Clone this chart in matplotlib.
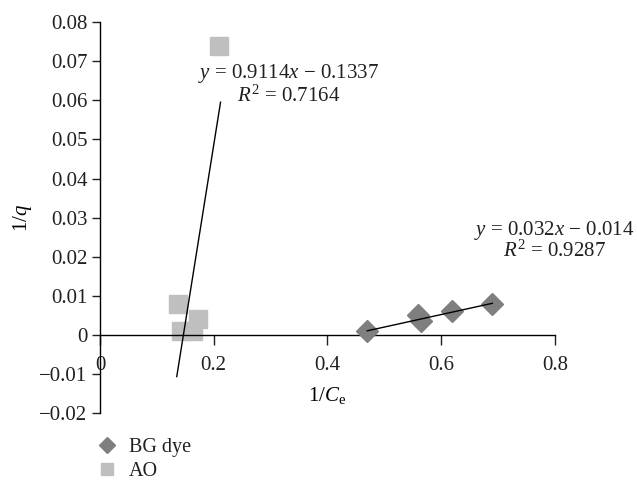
import matplotlib

matplotlib.use("Agg")
import matplotlib.pyplot as plt
import numpy as np

# data
bg_x = [0.47, 0.56, 0.565, 0.62, 0.69]
bg_y = [0.001, 0.005, 0.0035, 0.006, 0.008]
ao_x = [0.137, 0.142, 0.164, 0.173, 0.21]
ao_y = [0.008, 0.001, 0.001, 0.004, 0.074]

bg_fit = (0.032, -0.014)
ao_fit = (0.9114, -0.1337)
bg_fit_range = (0.47, 0.69)
ao_fit_range = (0.135, 0.212)

x_ticks = [0, 0.2, 0.4, 0.6, 0.8]
y_ticks = [-0.02, -0.01, 0, 0.01, 0.02, 0.03, 0.04, 0.05, 0.06, 0.07, 0.08]

TXT = "#231f20"
plt.rcParams["font.family"] = "Liberation Serif"
plt.rcParams["mathtext.fontset"] = "custom"
plt.rcParams["mathtext.rm"] = "Liberation Serif"
plt.rcParams["mathtext.it"] = "Liberation Serif:italic"
plt.rcParams["font.size"] = 15
plt.rcParams["text.color"] = TXT

fig = plt.figure(figsize=(6.37, 4.82), dpi=100)
ax = fig.add_axes([0.157, 0.143, 0.714, 0.811])

ax.plot(bg_x, bg_y, "D", color="#7f7f7f", markersize=11, linestyle="none",
        label="BG dye", zorder=3)
ax.plot(ao_x, ao_y, "s", color="#bfbfbf", markersize=12.5, linestyle="none",
        label="AO", zorder=2)

for (m, b), (x0, x1) in [(bg_fit, bg_fit_range), (ao_fit, ao_fit_range)]:
    xs = np.array([x0, x1])
    ax.plot(xs, m * xs + b, color="black", lw=1.0, zorder=4)

ax.set_xlim(0, 0.8)
ax.set_ylim(-0.02, 0.08)
ax.set_xticks(x_ticks)
ax.set_xticklabels(["0", "0.2", "0.4", "0.6", "0.8"])
ax.set_yticks(y_ticks)
ax.set_yticklabels(["\u22120.02", "\u22120.01", "0", "0.01", "0.02", "0.03",
                    "0.04", "0.05", "0.06", "0.07", "0.08"])

for s in ["top", "right"]:
    ax.spines[s].set_visible(False)
ax.spines["bottom"].set_position(("data", 0))
for s in ["left", "bottom"]:
    ax.spines[s].set_color("black")
    ax.spines[s].set_linewidth(1.0)
ax.tick_params(axis="y", direction="out", length=6, width=1, pad=3, colors=TXT)
ax.tick_params(axis="x", direction="out", length=7, width=1, pad=8, colors=TXT)

ax.set_ylabel("1/$q$")
ax.yaxis.set_label_coords(-0.145, 0.5)
ax.set_xlabel("1/$C_{\\mathrm{e}}$", va="center")
ax.xaxis.set_label_coords(0.5, 0.046)

eq_size = 15
ax.text(0.332, 0.0658, "$y$ = 0.9114$x$ \u2212 0.1337", ha="center",
        va="baseline", fontsize=eq_size)
ax.text(0.332, 0.0597, "$R^2$ = 0.7164", ha="center", va="baseline",
        fontsize=eq_size)
ax.text(0.799, 0.0256, "$y$ = 0.032$x$ \u2212 0.014", ha="center",
        va="baseline", fontsize=eq_size, clip_on=False)
ax.text(0.799, 0.0200, "$R^2$ = 0.9287", ha="center", va="baseline",
        fontsize=eq_size, clip_on=False)

handles = [
    plt.Line2D([], [], marker="D", color="#7f7f7f", markersize=8, linestyle="none"),
    plt.Line2D([], [], marker="s", color="#bfbfbf", markersize=9, linestyle="none"),
]
fig.legend(handles, ["BG dye", "AO"], loc="lower left",
           bbox_to_anchor=(0.123, -0.036), frameon=False, handlelength=1.0,
           handletextpad=0.6, labelspacing=0.25, fontsize=14.5)

fig.savefig("out.png", dpi=100)
